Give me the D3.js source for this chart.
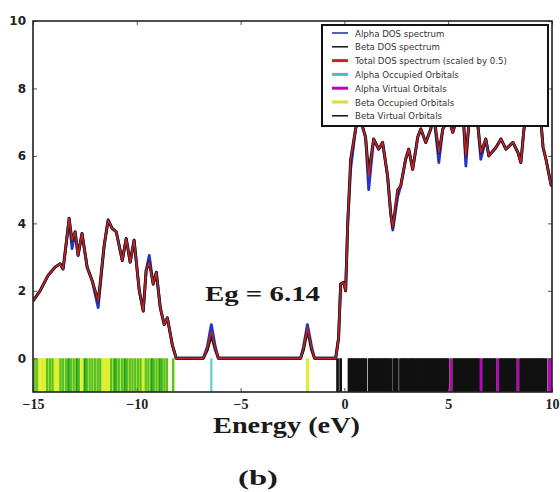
<!DOCTYPE html>
<html>
<head>
<meta charset="utf-8">
<script src="https://cdn.jsdelivr.net/npm/d3@7"></script>
<style>
  body { margin: 0; background: #fff; }
  svg { display: block; }
</style>
</head>
<body>
<div id="chart"></div>
<script>
// DOS curves
var energy = [-15.00,-14.66,-14.28,-13.94,-13.70,-13.55,-13.41,-13.26,-13.12,-12.97,-12.83,-12.64,-12.39,-12.15,-11.86,-11.57,-11.38,-11.19,-10.99,-10.70,-10.51,-10.32,-10.13,-9.88,-9.69,-9.55,-9.40,-9.21,-9.06,-8.87,-8.68,-8.53,-8.29,-8.10,-6.80,-6.60,-6.41,-6.22,-6.07,-2.11,-1.97,-1.78,-1.58,-1.44,-0.42,-0.28,-0.18,-0.03,0.06,0.16,0.30,0.54,0.73,0.88,1.02,1.17,1.41,1.65,1.84,2.08,2.23,2.33,2.57,2.71,2.95,3.10,3.29,3.53,3.68,3.92,4.16,4.31,4.55,4.74,5.03,5.22,5.51,5.75,5.85,5.99,6.19,6.43,6.57,6.81,6.96,7.30,7.54,7.78,8.12,8.36,8.50,8.65,8.89,9.23,9.47,9.57,9.71,9.95,10.00];
var totalDos = [1.7,2.0,2.45,2.7,2.8,2.65,3.35,4.15,3.5,3.75,3.05,3.7,2.7,2.3,1.7,3.35,4.1,3.85,3.75,2.9,3.55,2.85,3.5,2.0,1.4,2.6,2.85,2.2,2.55,1.5,1.0,1.2,0.4,0,0,0.3,0.8,0.3,0,0,0.3,0.9,0.3,0,0,0.6,2.2,2.25,2.0,4.0,5.9,6.8,7.2,6.85,6.55,5.4,6.5,6.2,6.4,5.4,4.3,3.9,5.0,5.1,5.9,6.2,5.6,6.55,6.8,6.4,6.8,7.2,6.1,6.8,7.1,6.7,7.3,6.9,6.0,6.9,7.2,6.9,6.1,6.5,6.0,6.25,6.5,6.2,6.4,6.1,5.8,6.8,7.4,7.6,7.0,6.25,5.9,5.15,5.1];
var alphaDos = [1.7,2.0,2.45,2.7,2.8,2.65,3.35,4.15,3.25,3.75,3.05,3.7,2.7,2.3,1.5,3.35,4.1,3.85,3.75,2.9,3.55,2.85,3.5,2.0,1.4,2.6,3.05,2.2,2.55,1.5,1.0,1.2,0.4,0,0,0.35,1.0,0.35,0,0,0.35,1.0,0.35,0,0,0.6,2.2,2.25,2.0,4.0,5.6,6.8,7.2,6.85,6.55,5.0,6.5,6.2,6.4,5.4,4.3,3.8,4.8,5.1,5.9,6.2,5.6,6.55,6.8,6.4,6.8,7.2,5.8,6.8,7.1,6.7,7.3,6.9,5.7,6.9,7.2,6.9,5.9,6.5,6.0,6.25,6.5,6.2,6.4,6.1,5.8,6.8,7.4,7.6,7.0,6.25,5.9,5.15,5.1];
var betaDos = [1.7,2.0,2.45,2.7,2.8,2.65,3.35,4.15,3.5,3.75,3.05,3.7,2.7,2.3,1.7,3.35,4.1,3.85,3.75,2.9,3.55,2.85,3.5,2.0,1.4,2.6,2.85,2.2,2.55,1.5,1.0,1.2,0.4,0,0,0.25,0.7,0.25,0,0,0.25,0.85,0.25,0,0,0.6,2.2,2.25,2.0,4.0,5.9,6.8,7.2,6.85,6.55,5.5,6.5,6.2,6.4,5.4,4.3,3.9,5.0,5.1,5.9,6.2,5.6,6.55,6.8,6.4,6.8,7.2,6.1,6.8,7.1,6.7,7.3,6.9,6.0,6.9,7.2,6.9,6.1,6.5,6.0,6.25,6.5,6.2,6.4,6.1,5.8,6.8,7.4,7.6,7.0,6.25,5.9,5.15,5.1];

// orbital energies (sticks below zero)
var alphaOccupied = [-14.94,-14.82,-14.32,-14.19,-14.06,-13.68,-13.56,-13.42,-13.31,-13.27,-13.17,-13.04,-12.91,-12.88,-12.79,-12.52,-12.49,-12.40,-12.27,-12.14,-12.01,-11.88,-11.76,-11.24,-11.11,-11.04,-10.98,-10.86,-10.72,-10.60,-10.56,-10.47,-10.34,-10.21,-10.08,-9.95,-9.82,-9.57,-9.44,-9.31,-9.26,-9.18,-9.05,-8.92,-8.87,-8.79,-8.67,-8.55,-8.25,-6.41];
var betaOccupied = [-14.95,-14.83,-14.71,-14.57,-14.45,-14.32,-14.20,-14.06,-13.93,-13.81,-13.68,-13.56,-13.42,-13.30,-13.17,-13.04,-12.91,-12.79,-12.65,-12.52,-12.40,-12.27,-12.14,-12.01,-11.88,-11.76,-11.62,-11.50,-11.37,-11.24,-11.11,-10.98,-10.86,-10.72,-10.60,-10.47,-10.34,-10.21,-10.08,-9.95,-9.82,-9.70,-9.57,-9.44,-9.31,-9.18,-9.05,-8.92,-8.79,-8.67,-8.55,-8.25,-1.78];
var alphaVirtual = [5.13,6.57,7.39,8.36,9.86,9.95];
var betaVirtual = [-0.33,-0.18,0.22,0.30,0.38,0.46,0.55,0.63,0.71,0.80,0.88,0.96,1.04,1.20,1.28,1.36,1.44,1.53,1.61,1.69,1.77,1.86,1.94,2.02,2.10,2.18,2.26,2.40,2.47,2.55,2.70,2.78,2.86,2.94,3.02,3.11,3.19,3.27,3.35,3.43,3.52,3.60,3.68,3.76,3.85,3.93,4.01,4.09,4.18,4.26,4.34,4.42,4.51,4.59,4.67,4.75,4.84,4.92,5.00,5.26,5.34,5.42,5.51,5.59,5.67,5.75,5.84,5.92,6.00,6.08,6.17,6.25,6.33,6.41,6.49,6.70,6.78,6.86,6.95,7.03,7.11,7.19,7.27,7.50,7.58,7.66,7.75,7.83,7.91,7.99,8.08,8.16,8.24,8.48,8.56,8.64,8.73,8.81,8.89,8.97,9.06,9.14,9.22,9.30,9.39,9.47,9.55,9.63,9.72];

var xTicks = [-15, -10, -5, 0, 5, 10];
var yTicks = [0, 2, 4, 6, 8, 10];

var legendLabels = ["Alpha DOS spectrum", "Beta DOS spectrum", "Total DOS spectrum (scaled by 0.5)",
  "Alpha Occupied Orbitals", "Alpha Virtual Orbitals", "Beta Occupied Orbitals", "Beta Virtual Orbitals"];
var legendColors = ["#1d2a9c", "#151515", "#cc2222", "#40c0c0", "#bf00bf", "#d8dc40", "#111111"];

var w = 560, h = 492;
var padL = 33, padR = 552, padT = 21, padB = 392;

var svg = d3.select("#chart").append("svg").attr("width", w).attr("height", h);

var x = d3.scaleLinear().domain([-15, 10]).range([padL, padR]);
var y = d3.scaleLinear().domain([-1, 10]).range([padB, padT]);

svg.append("clipPath").attr("id", "plot").append("rect")
  .attr("x", padL).attr("y", padT).attr("width", padR - padL).attr("height", padB - padT);

var plot = svg.append("g").attr("clip-path", "url(#plot)");

// sticks for orbitals, from 0 down to -1
function sticks(data, color, width, blend) {
  plot.append("g").selectAll("line").data(data).enter().append("line")
    .attr("x1", function(d) { return x(d); })
    .attr("x2", function(d) { return x(d); })
    .attr("y1", y(0)).attr("y2", y(-1))
    .attr("stroke", color).attr("stroke-width", width)
    .style("mix-blend-mode", blend);
}
sticks(betaOccupied, "#e0ee30", 3, "normal");
sticks(alphaOccupied, "#60d0d0", 2.2, "multiply");
sticks(betaVirtual, "#111", 2.7, "normal");
sticks(alphaVirtual, "#bf00bf", 2.4, "normal");

var line = d3.line()
  .x(function(d) { return x(d[0]); })
  .y(function(d) { return y(d[1]); });

function curve(values, color, width) {
  plot.append("path")
    .datum(d3.zip(energy, values))
    .attr("d", line)
    .attr("fill", "none")
    .attr("stroke", color)
    .attr("stroke-width", width)
    .attr("stroke-linejoin", "round");
}
curve(alphaDos, "#2233cc", 2.8);
curve(betaDos, "#151515", 2.9);
curve(totalDos, "#cc2222", 1.5);

// axes, ticks pointing inward on all four sides
var fmt = d3.format("d");
var xAxis = svg.append("g").attr("transform", "translate(0," + padB + ")")
  .call(d3.axisBottom(x).tickValues(xTicks).tickSize(-4).tickPadding(7).tickFormat(fmt));
svg.append("g").attr("transform", "translate(0," + padT + ")")
  .call(d3.axisTop(x).tickValues(xTicks).tickSize(-4).tickFormat(""));
var yAxis = svg.append("g").attr("transform", "translate(" + padL + ",0)")
  .call(d3.axisLeft(y).tickValues(yTicks).tickSize(-4).tickPadding(7).tickFormat(fmt));
svg.append("g").attr("transform", "translate(" + padR + ",0)")
  .call(d3.axisRight(y).tickValues(yTicks).tickSize(-4).tickFormat(""));

svg.selectAll(".domain").remove();
svg.selectAll(".tick line").attr("stroke", "#555").attr("stroke-width", 1);
xAxis.selectAll("text").attr("font-family", "Liberation Serif").attr("font-weight", "bold")
  .attr("font-size", 14).attr("fill", "#222");
yAxis.selectAll("text").attr("font-family", "DejaVu Sans").attr("font-weight", "bold")
  .attr("font-size", 12).attr("fill", "#222");

svg.append("rect")
  .attr("x", padL).attr("y", padT).attr("width", padR - padL).attr("height", padB - padT)
  .attr("fill", "none").attr("stroke", "#222").attr("stroke-width", 1.6);

// legend
var lg = svg.append("g").attr("transform", "translate(322,25)");
lg.append("rect").attr("width", 226).attr("height", 101)
  .attr("fill", "#fff").attr("stroke", "#111").attr("stroke-width", 2);
var item = lg.selectAll(".item").data(legendLabels).enter().append("g")
  .attr("transform", function(d, i) { return "translate(0," + (8 + i * 13.8) + ")"; });
item.append("line").attr("x1", 10).attr("x2", 26).attr("y1", 0).attr("y2", 0)
  .attr("stroke", function(d, i) { return legendColors[i]; })
  .attr("stroke-width", function(d, i) { return i == 0 || i == 1 || i == 6 ? 1.5 : 3; });
item.append("text").attr("x", 33).attr("y", 3.5)
  .attr("font-family", "DejaVu Sans").attr("font-size", 8.6).attr("fill", "#333")
  .text(function(d) { return d; });

// annotations
svg.append("text").attr("x", 205).attr("y", 301)
  .attr("font-family", "Liberation Serif").attr("font-weight", "bold").attr("font-size", 22)
  .attr("textLength", 115).attr("lengthAdjust", "spacingAndGlyphs").attr("fill", "#1a1a1a")
  .text("Eg = 6.14");
svg.append("text").attr("x", 213).attr("y", 433)
  .attr("font-family", "Liberation Serif").attr("font-weight", "bold").attr("font-size", 23)
  .attr("textLength", 147).attr("lengthAdjust", "spacingAndGlyphs").attr("fill", "#1a1a1a")
  .text("Energy (eV)");
svg.append("text").attr("x", 258).attr("y", 485).attr("text-anchor", "middle")
  .attr("font-family", "Liberation Serif").attr("font-weight", "bold").attr("font-size", 22)
  .attr("textLength", 40).attr("lengthAdjust", "spacingAndGlyphs").attr("fill", "#1a1a1a")
  .text("(b)");
</script>
</body>
</html>
